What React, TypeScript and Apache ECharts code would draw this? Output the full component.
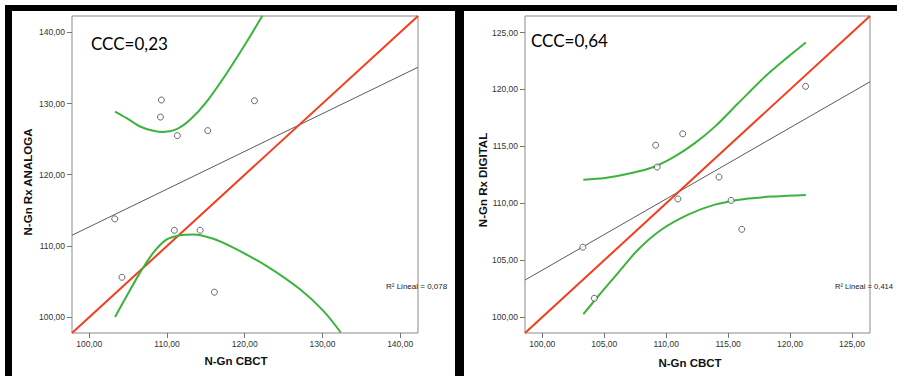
import React, { useEffect, useRef } from "react";
import * as echarts from "echarts";

// ---- data ----
const cbct = [103.27, 104.2, 109.15, 109.27, 110.94, 111.33, 114.26, 115.24, 116.1, 121.25];
const analoga = [113.8, 105.6, 128.1, 130.5, 112.2, 125.5, 112.2, 126.2, 103.5, 130.4];
const digital = [106.14, 101.65, 115.1, 113.18, 110.38, 116.1, 112.3, 110.25, 107.71, 120.27];

const leftRange = [97.77, 142.3];
const rightRange = [98.6, 126.45];
const leftTicks = [100, 110, 120, 130, 140];
const rightTicks = [100, 105, 110, 115, 120, 125];

// regression (grey) line end points
const leftFit = [[97.77, 111.5], [142.3, 135.1]];
const rightFit = [[98.6, 103.25], [126.45, 120.67]];

// green bands
const leftUpper = [
  [103.31, 128.88], [104.81, 127.96], [106.53, 126.78], [108.24, 126.18], [109.52, 126.0],
  [111.25, 126.41], [112.96, 127.72], [115.11, 130.28], [117.68, 134.26], [120.26, 138.68], [122.27, 142.32],
];
const leftLower = [
  [103.31, 100.03], [104.81, 102.97], [106.53, 106.25], [108.24, 109.05], [109.96, 110.91],
  [111.67, 111.51], [113.38, 111.61], [115.96, 111.01], [118.53, 109.75], [122.83, 107.17],
  [127.12, 103.91], [130.12, 100.87], [132.36, 97.84],
];
const rightUpper = [
  [103.31, 112.07], [105.06, 112.21], [107.21, 112.65], [109.09, 113.23], [110.7, 114.11],
  [112.31, 115.28], [113.93, 116.73], [115.81, 118.78], [117.96, 121.11], [119.84, 122.86], [121.27, 124.12],
];
const rightLower = [
  [103.31, 100.25], [104.52, 101.85], [106.13, 103.9], [107.74, 105.94], [109.63, 107.69],
  [111.77, 109.0], [113.93, 109.88], [116.35, 110.38], [118.77, 110.6], [121.27, 110.73],
];

const cccLeft = "CCC=0,23";
const cccRight = "CCC=0,64";
const r2Left = "R² Lineal = 0,078";
const r2Right = "R² Lineal = 0,414";

const RED = "#f53c1c";
const GREEN = "#3cb43c";
const FRAME = "#8a8a8a";

function fmt(v: number) {
  return v.toFixed(2).replace(".", ",");
}

function axis(range: number[], ticks: number[], idx: number, isY: boolean) {
  return {
    type: "value",
    gridIndex: idx,
    min: range[0],
    max: range[1],
    axisLine: { show: false },
    splitLine: { show: false },
    axisTick: {
      show: true,
      inside: false,
      length: 5,
      customValues: ticks,
      lineStyle: { color: "#777", width: 1 },
    },
    axisLabel: {
      show: true,
      customValues: ticks,
      formatter: (v: number) => fmt(v),
      fontSize: 8.5,
      fontFamily: "Liberation Sans, Arial, sans-serif",
      color: "#333",
      margin: isY ? 7 : 6,
    },
  };
}

export default function App() {
  const ref = useRef<HTMLDivElement>(null);
  useEffect(() => {
    if (!ref.current) return;
    const chart = echarts.init(ref.current, undefined, { renderer: "svg" });
    const scatterStyle = {
      color: "#fff",
      borderColor: "#444",
      borderWidth: 1,
    };
    const lineBase = { type: "line", showSymbol: false, symbol: "none", clip: true, silent: true };
    const curve = { ...lineBase, smooth: 0.3 };
    chart.setOption({
      animation: false,
      backgroundColor: "#fff",
      grid: [
        { left: 72, top: 16, width: 346, height: 317, show: true, borderColor: FRAME, borderWidth: 1, backgroundColor: "#fff" },
        { left: 525, top: 16, width: 345, height: 317, show: true, borderColor: FRAME, borderWidth: 1, backgroundColor: "#fff" },
      ],
      xAxis: [axis(leftRange, leftTicks, 0, false), axis(rightRange, rightTicks, 1, false)],
      yAxis: [axis(leftRange, leftTicks, 0, true), axis(rightRange, rightTicks, 1, true)],
      series: [
        { ...lineBase, xAxisIndex: 0, yAxisIndex: 0, data: leftFit, lineStyle: { color: "#5a5a5a", width: 1 } },
        { ...lineBase, xAxisIndex: 0, yAxisIndex: 0, data: [[leftRange[0], leftRange[0]], [leftRange[1], leftRange[1]]], lineStyle: { color: RED, width: 2 } },
        { ...curve, xAxisIndex: 0, yAxisIndex: 0, data: leftUpper, lineStyle: { color: GREEN, width: 2 } },
        { ...curve, xAxisIndex: 0, yAxisIndex: 0, data: leftLower, lineStyle: { color: GREEN, width: 2 } },
        {
          type: "scatter", xAxisIndex: 0, yAxisIndex: 0, symbol: "circle", symbolSize: 6,
          itemStyle: scatterStyle, data: cbct.map((x, i) => [x, analoga[i]]), z: 5,
        },
        { ...lineBase, xAxisIndex: 1, yAxisIndex: 1, data: rightFit, lineStyle: { color: "#5a5a5a", width: 1 } },
        { ...lineBase, xAxisIndex: 1, yAxisIndex: 1, data: [[rightRange[0], rightRange[0]], [rightRange[1], rightRange[1]]], lineStyle: { color: RED, width: 2 } },
        { ...curve, xAxisIndex: 1, yAxisIndex: 1, data: rightUpper, lineStyle: { color: GREEN, width: 2 } },
        { ...curve, xAxisIndex: 1, yAxisIndex: 1, data: rightLower, lineStyle: { color: GREEN, width: 2 } },
        {
          type: "scatter", xAxisIndex: 1, yAxisIndex: 1, symbol: "circle", symbolSize: 6,
          itemStyle: scatterStyle, data: cbct.map((x, i) => [x, digital[i]]), z: 5,
        },
      ],
      graphic: [
        // black frame bars
        { type: "rect", shape: { x: 5, y: 5, width: 892, height: 6 }, style: { fill: "#000" }, z: 100 },
        { type: "rect", shape: { x: 5, y: 5, width: 7, height: 371 }, style: { fill: "#000" }, z: 100 },
        { type: "rect", shape: { x: 455, y: 5, width: 9, height: 371 }, style: { fill: "#000" }, z: 100 },
        // CCC labels
        { type: "text", x: 91, y: 43, z: 50, style: { text: cccLeft, font: "17px Lato, sans-serif", fill: "#000", verticalAlign: "middle" } },
        { type: "text", x: 531, y: 40, z: 50, style: { text: cccRight, font: "17px Lato, sans-serif", fill: "#000", verticalAlign: "middle" } },
        // R2 labels
        { type: "text", x: 386, y: 286, z: 50, style: { text: r2Left, font: "8px 'Liberation Sans', Arial, sans-serif", fill: "#222", verticalAlign: "middle" } },
        { type: "text", x: 835, y: 286, z: 50, style: { text: r2Right, font: "7.6px 'Liberation Sans', Arial, sans-serif", fill: "#222", verticalAlign: "middle" } },
        // axis titles
        { type: "text", x: 236, y: 361, z: 50, style: { text: "N-Gn CBCT", font: "bold 11.5px 'Liberation Sans', Arial, sans-serif", fill: "#111", align: "center", verticalAlign: "middle" } },
        { type: "text", x: 690, y: 363, z: 50, style: { text: "N-Gn CBCT", font: "bold 11.5px 'Liberation Sans', Arial, sans-serif", fill: "#111", align: "center", verticalAlign: "middle" } },
        { type: "text", x: 28, y: 182, rotation: Math.PI / 2, z: 50, style: { text: "N-Gn Rx ANALOGA", font: "bold 11.5px 'Liberation Sans', Arial, sans-serif", fill: "#111", align: "center", verticalAlign: "middle" } },
        { type: "text", x: 483, y: 180, rotation: Math.PI / 2, z: 50, style: { text: "N-Gn Rx DIGITAL", font: "bold 11.5px 'Liberation Sans', Arial, sans-serif", fill: "#111", align: "center", verticalAlign: "middle" } },
      ],
    });
    return () => chart.dispose();
  }, []);
  return (
    <div
      ref={ref}
      style={{ position: "fixed", left: 0, top: 0, width: 897, height: 376, background: "#fff" }}
    />
  );
}
